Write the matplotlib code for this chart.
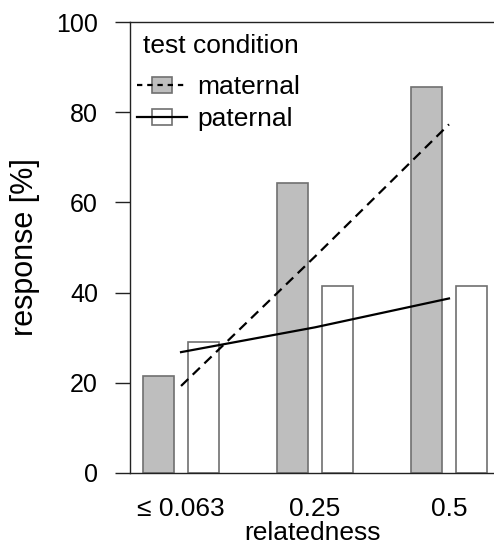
import matplotlib
matplotlib.use("Agg")
import matplotlib.pyplot as plt
import numpy as np
from matplotlib.legend_handler import HandlerBase
from matplotlib.patches import Rectangle
from matplotlib.lines import Line2D

plt.rcParams['font.family'] = ['Liberation Sans', 'DejaVu Sans']

categories = ["\u2264 0.063", "0.25", "0.5"]
maternal = [21.5, 64.2, 85.5]
paternal = [29.1, 41.5, 41.5]
maternal_fit = [19.3, 48.0, 77.3]
paternal_fit = [26.8, 32.3, 38.7]
yticks = [0, 20, 40, 60, 80, 100]

fig = plt.figure(figsize=(4.94, 5.5), dpi=100)
ax = fig.add_axes([130/494, 77/550, 1 - 130/494, 451/550])

x = np.arange(len(categories))
off = 0.168
w = 0.226
ax.bar(x - off, maternal, width=w, color="#bebebe", edgecolor="#707070", linewidth=1.2, zorder=2)
ax.bar(x + off, paternal, width=w, color="white", edgecolor="#707070", linewidth=1.2, zorder=2)
ax.plot(x, maternal_fit, color="black", linestyle=(0, (4.5, 2.8)), linewidth=1.6, zorder=3)
ax.plot(x, paternal_fit, color="black", linestyle="-", linewidth=1.6, zorder=3)

ax.set_xlim(-0.381, 2.336)
ax.set_ylim(0, 100)
ax.set_yticks(yticks)
ax.set_xticks(x)
ax.set_xticklabels(categories)
ax.spines['right'].set_visible(False)
for s in ['left', 'top', 'bottom']:
    ax.spines[s].set_linewidth(1.0)
    ax.spines[s].set_color("#222222")
ax.tick_params(axis='y', direction='out', length=11, width=1.0, pad=12, labelsize=18, color="#222222")
ax.tick_params(axis='x', length=0, pad=17, labelsize=19)
ax.set_xlabel("relatedness", fontsize=19, labelpad=0)
ax.set_ylabel("response [%]", fontsize=22, labelpad=12)


class BoxLineHandler(HandlerBase):
    def create_artists(self, legend, orig_handle, xdescent, ydescent, width, height, fontsize, trans):
        face, ls = orig_handle
        cy = height / 2 - ydescent
        bw = width * 0.4
        bh = height * 0.87
        rect = Rectangle((width / 2 - bw / 2 - xdescent, cy - bh / 2), bw, bh,
                         facecolor=face, edgecolor="#707070", linewidth=1.2, transform=trans)
        line = Line2D([-xdescent, width - xdescent], [cy, cy], color="black",
                      linestyle=ls, linewidth=1.6, transform=trans)
        return [rect, line]


ax.text(0.036, 0.947, "test condition", transform=ax.transAxes, fontsize=19,
        ha="left", va="center")

h1 = ("#bebebe", (0, (2.4, 2.2)))
h2 = ("white", "-")
leg = ax.legend([h1, h2], ["maternal", "paternal"], handler_map={tuple: BoxLineHandler()},
                loc="center left", bbox_to_anchor=(0.019, 0.82),
                frameon=False, fontsize=19, handlelength=1.9,
                handletextpad=0.38, labelspacing=0.29, borderpad=0.0, borderaxespad=0.0)

fig.savefig("out.png", dpi=100)
